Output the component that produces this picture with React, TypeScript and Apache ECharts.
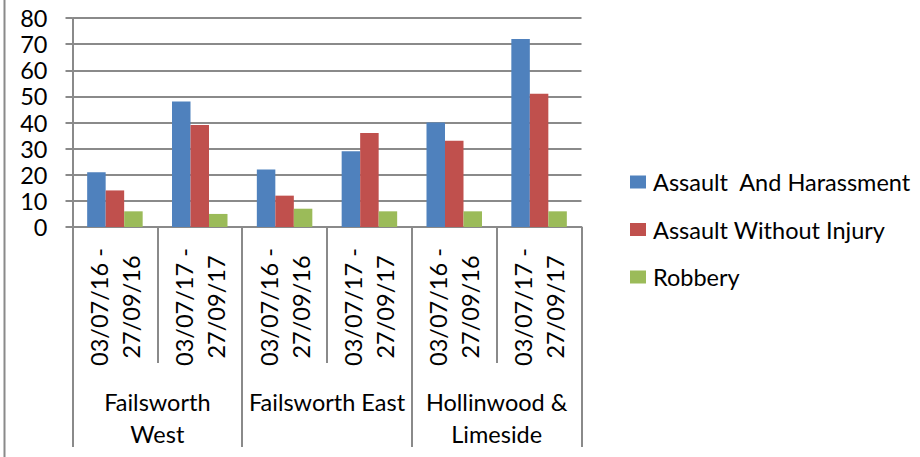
import React, { useEffect, useRef } from "react";
import * as echarts from "echarts";

const periods = [
  "03/07/16 -\n27/09/16",
  "03/07/17 -\n27/09/17",
  "03/07/16 -\n27/09/16",
  "03/07/17 -\n27/09/17",
  "03/07/16 -\n27/09/16",
  "03/07/17 -\n27/09/17",
];
const wards = ["Failsworth\nWest", "Failsworth East", "Hollinwood &\nLimeside"];
const seriesNames = ["Assault  And Harassment", "Assault Without Injury", "Robbery"];
const assaultHarassment = [21, 48, 22, 29, 40, 72];
const assaultWithoutInjury = [14, 39, 12, 36, 33, 51];
const robbery = [6, 5, 7, 6, 6, 6];
const colors = ["#4F81BD", "#C0504D", "#9BBB59"];

const FONT = "Lato, 'Liberation Sans', sans-serif";
const GRAY = "#8a8a8a";
const FS = 23.5;

export default function App() {
  const ref = useRef<HTMLDivElement>(null);
  useEffect(() => {
    if (!ref.current) return;
    const chart = echarts.init(ref.current, undefined, { renderer: "svg" });
    const values = [assaultHarassment, assaultWithoutInjury, robbery];
    chart.setOption({
      animation: false,
      textStyle: { fontFamily: FONT },
      grid: { left: 72.5, right: 338.5, top: 18, bottom: 230, containLabel: false },
      legend: {
        orient: "vertical",
        left: 625,
        top: 164,
        itemWidth: 16,
        itemHeight: 13,
        itemGap: 21.5,
        icon: "rect",
        data: seriesNames,
        textStyle: { fontFamily: FONT, fontSize: FS, lineHeight: 26, color: "#000", padding: [0, 0, 0, 2] },
      },
      xAxis: [
        {
          type: "category",
          data: periods,
          position: "bottom",
          axisLine: { show: true, lineStyle: { color: GRAY, width: 2 } },
          axisTick: { show: true, length: 136, interval: 0, lineStyle: { color: GRAY, width: 2 } },
          axisLabel: {
            interval: 0,
            rotate: 90,
            align: "center",
            verticalAlign: "middle",
            margin: 80,
            fontFamily: FONT,
            fontSize: FS,
            lineHeight: 32,
            color: "#000",
          },
        },
        {
          type: "category",
          data: wards,
          position: "bottom",
          axisLine: { show: false },
          axisTick: { show: true, length: 220, interval: 0, lineStyle: { color: GRAY, width: 2 } },
          axisLabel: {
            interval: 0,
            margin: 159,
            align: "center",
            verticalAlign: "top",
            fontFamily: FONT,
            fontSize: FS,
            lineHeight: 32,
            color: "#000",
          },
        },
      ],
      yAxis: {
        type: "value",
        min: 0,
        max: 80,
        interval: 10,
        axisLine: { show: true, lineStyle: { color: GRAY, width: 2 } },
        axisTick: { show: true, length: 7, lineStyle: { color: GRAY, width: 2 } },
        splitLine: { show: true, lineStyle: { color: GRAY, width: 2 } },
        axisLabel: { margin: 25, fontFamily: FONT, fontSize: FS, color: "#000" },
      },
      graphic: [
        {
          type: "line",
          shape: { x1: 4.5, y1: 0, x2: 4.5, y2: 457 },
          style: { stroke: GRAY, lineWidth: 2 },
        },
      ],
      series: seriesNames.map((name, i) => ({
        name,
        type: "bar",
        xAxisIndex: 0,
        data: values[i],
        barWidth: 18.5,
        barGap: "0%",
        itemStyle: { color: colors[i] },
      })),
    });
    return () => chart.dispose();
  }, []);
  return (
    <div
      ref={ref}
      style={{ position: "absolute", left: 0, top: 0, width: 920, height: 457, background: "#fff" }}
    />
  );
}
